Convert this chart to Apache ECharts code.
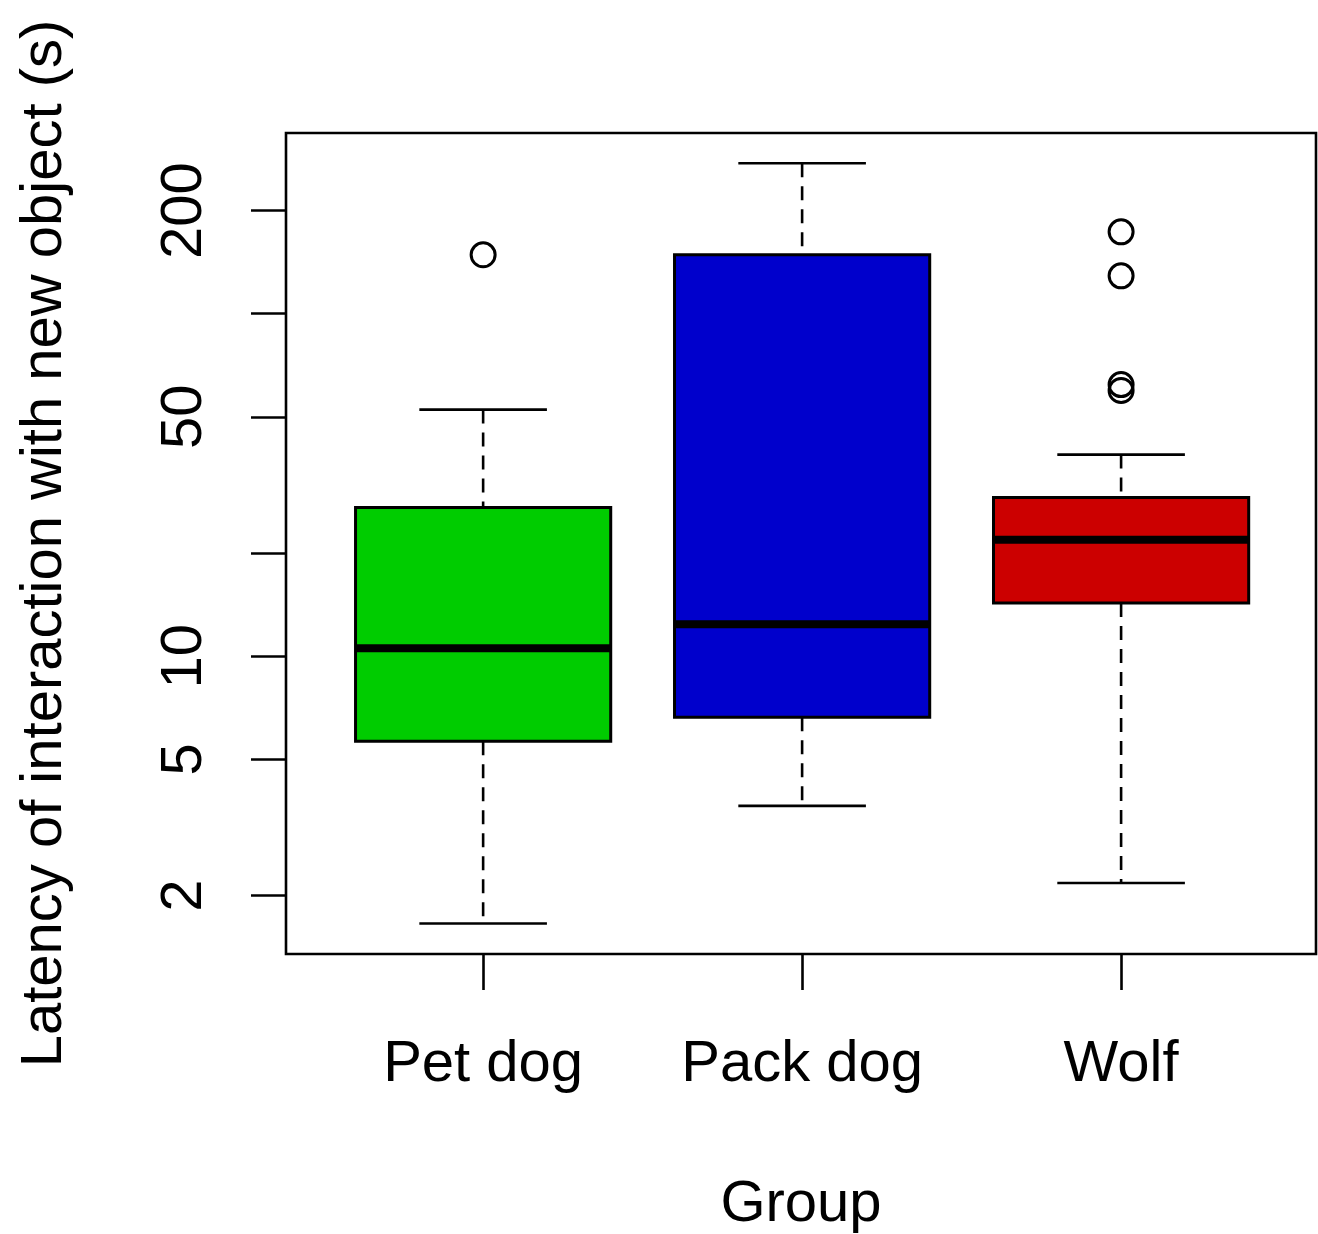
<!DOCTYPE html>
<html>
<head>
<meta charset="utf-8">
<script src="https://cdn.jsdelivr.net/npm/echarts@6/dist/echarts.min.js"></script>
<style>
  html, body { margin: 0; padding: 0; background: #fff; }
  #chart { width: 1318px; height: 1234px; }
</style>
</head>
<body>
<div id="chart"></div>
<script>
// 组名与箱线图数据（对数坐标，单位 s）
var categories = ["Pet dog", "Pack dog", "Wolf"];
var lowWhisker = [1.66, 3.66, 2.18];
var q1 = [5.65, 6.64, 14.3];
var median = [10.55, 12.4, 21.9];
var q3 = [27.2, 148.6, 29.1];
var highWhisker = [52.5, 275, 38.8];
// 离群点 [组序号, 值]
var outliers = [[1, 148.6], [3, 173.4], [3, 129], [3, 62.1], [3, 59.7]];
// 刻度
var yTicks = [2, 5, 10, 20, 50, 100, 200];
var yLabels = [2, 5, 10, 50, 200];
var boxColors = ["#00CC00", "#0000CC", "#CC0000"];

(function () {
	var myChart = echarts.init(document.getElementById("chart"));
	var font = "'Liberation Sans', Arial, sans-serif";

	var boxData = categories.map(function (c, i) {
		return [i + 1, lowWhisker[i], q1[i], median[i], q3[i], highWhisker[i]];
	});

	function renderBox(params, api) {
		var x = api.value(0);
		var lo = api.value(1), b1 = api.value(2), md = api.value(3), b3 = api.value(4), hi = api.value(5);
		var halfBox = 0.4, halfCap = 0.2;
		var pLo = api.coord([x, lo]);
		var pHi = api.coord([x, hi]);
		var pQ1 = api.coord([x, b1]);
		var pQ3 = api.coord([x, b3]);
		var pMd = api.coord([x, md]);
		var boxL = api.coord([x - halfBox, b1])[0];
		var boxR = api.coord([x + halfBox, b1])[0];
		var capL = api.coord([x - halfCap, b1])[0];
		var capR = api.coord([x + halfCap, b1])[0];
		var solid = { stroke: "#000", lineWidth: 2.6 };
		var dashed = { stroke: "#000", lineWidth: 2.6, lineDash: [14, 9] };
		return {
			type: "group",
			children: [
				{ type: "line", shape: { x1: pHi[0], y1: pHi[1], x2: pQ3[0], y2: pQ3[1] }, style: dashed },
				{ type: "line", shape: { x1: pQ1[0], y1: pQ1[1], x2: pLo[0], y2: pLo[1] }, style: dashed },
				{ type: "line", shape: { x1: capL, y1: pHi[1], x2: capR, y2: pHi[1] }, style: solid },
				{ type: "line", shape: { x1: capL, y1: pLo[1], x2: capR, y2: pLo[1] }, style: solid },
				{
					type: "rect",
					shape: { x: boxL, y: pQ3[1], width: boxR - boxL, height: pQ1[1] - pQ3[1] },
					style: { fill: boxColors[params.dataIndex], stroke: "#000", lineWidth: 3 }
				},
				{ type: "line", shape: { x1: boxL, y1: pMd[1], x2: boxR, y2: pMd[1] }, style: { stroke: "#000", lineWidth: 8 } }
			]
		};
	}

	var option = {
		animation: false,
		backgroundColor: "#fff",
		grid: {
			left: 286,
			top: 133,
			right: 2,
			bottom: 280,
			show: true,
			borderColor: "#000",
			borderWidth: 2.6,
			outerBoundsMode: "none"
		},
		xAxis: {
			type: "value",
			min: 0.382,
			max: 3.611,
			name: "Group",
			nameLocation: "middle",
			nameGap: 222,
			nameTextStyle: { color: "#000", fontSize: 58, fontFamily: font },
			axisLine: { show: false },
			splitLine: { show: false },
			axisTick: {
				customValues: [1, 2, 3],
				length: 36,
				lineStyle: { color: "#000", width: 2.6 }
			},
			axisLabel: {
				customValues: [1, 2, 3],
				margin: 82,
				color: "#000",
				fontSize: 58,
				fontFamily: font,
				formatter: function (v) { return categories[Math.round(v) - 1]; }
			}
		},
		yAxis: {
			type: "log",
			logBase: 10,
			min: 1.352,
			max: 337,
			name: "Latency of interaction with new object (s)",
			nameLocation: "middle",
			nameRotate: 90,
			nameGap: 212,
			nameTextStyle: { color: "#000", fontSize: 58, fontFamily: font },
			axisLine: { show: false },
			splitLine: { show: false },
			minorTick: { show: false },
			axisTick: {
				customValues: yTicks,
				length: 35,
				lineStyle: { color: "#000", width: 2.6 }
			},
			axisLabel: {
				customValues: yLabels,
				rotate: 90,
				margin: 72,
				color: "#000",
				fontSize: 58,
				fontFamily: font
			}
		},
		series: [
			{
				type: "custom",
				renderItem: renderBox,
				encode: { x: 0, y: [1, 2, 3, 4, 5] },
				data: boxData,
				z: 2
			},
			{
				type: "scatter",
				data: outliers,
				symbol: "circle",
				symbolSize: 24,
				itemStyle: { color: "rgba(0,0,0,0)", borderColor: "#000", borderWidth: 3, opacity: 1 },
				z: 3
			}
		]
	};

	myChart.setOption(option);
	window.addEventListener("resize", function () {
		myChart.resize();
	});
})();
</script>
</body>
</html>
